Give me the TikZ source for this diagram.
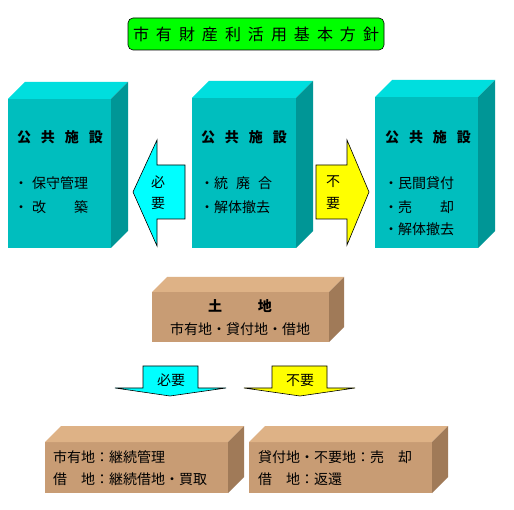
\documentclass[tikz,border=0pt]{standalone}
\usepackage{fontspec}
\setmainfont{Noto Sans CJK JP}
\definecolor{tealF}{RGB}{0,190,190}
\definecolor{tealT}{RGB}{0,222,222}
\definecolor{tealS}{RGB}{0,150,150}
\definecolor{tanF}{RGB}{200,156,116}
\definecolor{tanT}{RGB}{222,178,134}
\definecolor{tanS}{RGB}{160,122,88}
\definecolor{arrC}{RGB}{0,255,255}
\definecolor{arrY}{RGB}{255,255,0}
\definecolor{ttlG}{RGB}{0,255,0}
\newcommand\mycube[8]{%
  \fill[#6] (#1,#2) rectangle (#3,#4);
  \fill[#7] (#1,#2) -- ({#1+#5},{#2-#5}) -- ({#3+#5},{#2-#5}) -- (#3,#2) -- cycle;
  \fill[#8] (#3,#2) -- ({#3+#5},{#2-#5}) -- ({#3+#5},{#4-#5}) -- (#3,#4) -- cycle;
}
\tikzset{
  txt/.style={inner sep=0pt, font=\fontsize{14pt}{16pt}\selectfont},
  ltxt/.style={txt, anchor=west},
  head/.style={txt, font=\fontsize{14pt}{16pt}\selectfont\bfseries},
  arr/.style={draw=black, line width=0.6pt, line join=miter},
}
\begin{document}
\begin{tikzpicture}[x=1pt,y=-1pt]
\useasboundingbox[fill=white] (0,0) rectangle (514,510);
% title
\node[draw=black, fill=ttlG, rounded corners=5pt, line width=0.6pt,
      minimum width=256pt, minimum height=32pt, inner sep=0pt,
      font=\fontsize{16pt}{18pt}\selectfont] (title) at (256,34)
  {市\hspace{7pt}有\hspace{7pt}財\hspace{7pt}産\hspace{7pt}利\hspace{7pt}活\hspace{7pt}用\hspace{7pt}基\hspace{7pt}本\hspace{7pt}方\hspace{7pt}針};
% facility cubes
\mycube{8}{99}{111}{248}{17}{tealF}{tealT}{tealS}
\mycube{192}{98}{296}{248}{17}{tealF}{tealT}{tealS}
\mycube{375}{97}{478}{248}{17}{tealF}{tealT}{tealS}
\node[head] (h1) at (60,137) {公\hspace{10pt}共\hspace{10pt}施\hspace{10pt}設};
\node[head] (h2) at (244,137) {公\hspace{10pt}共\hspace{10pt}施\hspace{10pt}設};
\node[head] (h3) at (428,137) {公\hspace{10pt}共\hspace{10pt}施\hspace{10pt}設};
\node[ltxt] (l1) at (32,183) {\llap{・\kern4pt}保守管理};
\node[ltxt] (l2) at (32,207) {\llap{・\kern4pt}改　　築};
\node[ltxt] (m1) at (214,183) {\llap{・}統\hspace{8pt}廃\hspace{8pt}合};
\node[ltxt] (m2) at (214,207) {\llap{・}解体撤去};
\node[ltxt] (r1) at (398,183) {\llap{・}民間貸付};
\node[ltxt] (r2) at (398,207) {\llap{・}売　　却};
\node[ltxt] (r3) at (398,229) {\llap{・}解体撤去};
% side arrows
\draw[arr, fill=arrC] (185,165) -- (157,165) -- (157,140) -- (133,192) -- (157,246) -- (157,219) -- (185,219) -- cycle;
\node[txt] (a1) at (158,182) {必};
\node[txt] (a2) at (158,203) {要};
\draw[arr, fill=arrY] (316,165) -- (347,165) -- (347,140) -- (369,192) -- (347,245) -- (347,219) -- (316,219) -- cycle;
\node[txt] (b1) at (333,182) {不};
\node[txt] (b2) at (333,203) {要};
% land
\mycube{152}{292}{329}{342}{15}{tanF}{tanT}{tanS}
\node[head] (land) at (240,306) {土\hspace{36pt}地};
\node[txt] (landsub) at (240,329) {市有地・貸付地・借地};
% down arrows
\draw[arr, fill=arrC] (143,366) -- (198,366) -- (198,388) -- (226,388) -- (170,396) -- (115,388) -- (143,388) -- cycle;
\node[txt] (c1) at (171,380) {必要};
\draw[arr, fill=arrY] (272,366) -- (327,366) -- (327,388) -- (355,388) -- (300,396) -- (244,388) -- (272,388) -- cycle;
\node[txt] (d1) at (300,380) {不要};
% bottom boxes
\mycube{45}{442}{228}{493}{16}{tanF}{tanT}{tanS}
\mycube{249}{442}{432}{493}{16}{tanF}{tanT}{tanS}
\node[ltxt] (bl1) at (53,457) {市有地：継続管理};
\node[ltxt] (bl2) at (53,479) {借　地：継続借地・買取};
\node[ltxt] (br1) at (258,457) {貸付地・不要地：売　却};
\node[ltxt] (br2) at (258,479) {借　地：返還};
\end{tikzpicture}
\end{document}
